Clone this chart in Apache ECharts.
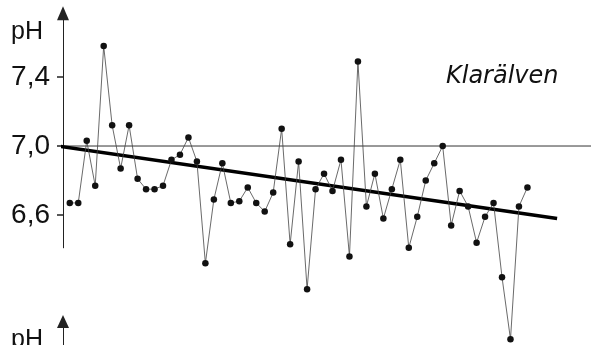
<!DOCTYPE html>
<html>
<head>
<meta charset="utf-8">
<script src="https://cdn.jsdelivr.net/npm/echarts@6/dist/echarts.min.js"></script>
<style>
  html, body { margin: 0; padding: 0; background: #fff; }
  #chart { width: 591px; height: 345px; }
</style>
</head>
<body>
<div id="chart"></div>
<script>
const phValues = [
  6.67, 6.67, 7.03, 6.77, 7.58, 7.12, 6.87, 7.12, 6.81, 6.75,
  6.75, 6.77, 6.92, 6.95, 7.05, 6.91, 6.32, 6.69, 6.90, 6.67,
  6.68, 6.76, 6.67, 6.62, 6.73, 7.10, 6.43, 6.91, 6.17, 6.75,
  6.84, 6.74, 6.92, 6.36, 7.49, 6.65, 6.84, 6.58, 6.75, 6.92,
  6.41, 6.59, 6.80, 6.90, 7.00, 6.54, 6.74, 6.65, 6.44, 6.59,
  6.67, 6.24, 5.88, 6.65, 6.76
]
// Trendlinie (Anfang / Ende) und Referenzlinie pH 7,0
const trendLine = [[-1.5, 7.0], [57.5, 6.58]]
const refLine = [[-1.5, 7.0], [61.5, 7.0]]

const tickValues = [6.6, 7.0, 7.4]
const tickLabels = ['6,6', '7,0', '7,4']
const axisName = 'pH'
const riverName = 'Klarälven'

const chart = echarts.init(document.getElementById('chart'))

const option = {
  animation: false,
  backgroundColor: '#fff',
  title: {
    text: riverName,
    left: 441,
    top: 60,
    textStyle: {
      fontFamily: 'DejaVu Sans',
      fontStyle: 'italic',
      fontWeight: 'normal',
      fontSize: 24,
      color: '#111'
    }
  },
  graphic: [
    { type: 'text', left: 11, top: 20, style: { text: axisName, font: '25px "Liberation Sans"', fill: '#111' } },
    { type: 'text', left: 11, top: 328, style: { text: axisName, font: '25px "Liberation Sans"', fill: '#111' } }
  ],
  grid: [
    { left: 63, right: 0, top: 13.2, height: 234.6, outerBoundsMode: 'none' },
    { left: 63, right: 0, top: 321.5, height: 200, outerBoundsMode: 'none' }
  ],
  xAxis: [
    { type: 'value', gridIndex: 0, min: -0.8, max: 61.5, show: false },
    { type: 'value', gridIndex: 1, min: 0, max: 1, show: false }
  ],
  yAxis: [
    {
      type: 'value',
      gridIndex: 0,
      min: 6.41,
      max: 7.77,
      axisLine: {
        show: true,
        onZero: false,
        symbol: ['none', 'triangle'],
        symbolSize: [12, 14],
        lineStyle: { color: '#222', width: 1 }
      },
      axisTick: {
        show: true,
        customValues: tickValues,
        length: 6,
        lineStyle: { color: '#222', width: 1.5 }
      },
      axisLabel: {
        customValues: tickValues,
        formatter: v => tickLabels[tickValues.findIndex(t => Math.abs(t - v) < 1e-6)] || '',
        margin: 13,
        fontFamily: 'Liberation Sans',
        fontSize: 28,
        color: '#111'
      },
      splitLine: { show: false }
    },
    {
      type: 'value',
      gridIndex: 1,
      min: 0,
      max: 1,
      axisLine: {
        show: true,
        onZero: false,
        symbol: ['none', 'triangle'],
        symbolSize: [12, 13],
        lineStyle: { color: '#222', width: 1 }
      },
      axisTick: { show: false },
      axisLabel: { show: false },
      splitLine: { show: false }
    }
  ],
  series: [
    {
      type: 'line',
      data: refLine,
      clip: false,
      symbol: 'none',
      lineStyle: { color: '#333', width: 1 },
      silent: true
    },
    {
      type: 'line',
      data: trendLine,
      clip: false,
      symbol: 'none',
      lineStyle: { color: '#000', width: 3.5 },
      silent: true
    },
    {
      type: 'line',
      data: phValues.map((v, i) => [i, v]),
      clip: false,
      symbol: 'circle',
      symbolSize: 6.5,
      itemStyle: { color: '#111' },
      lineStyle: { color: '#444', width: 0.8 }
    }
  ]
}

chart.setOption(option)
</script>
</body>
</html>
